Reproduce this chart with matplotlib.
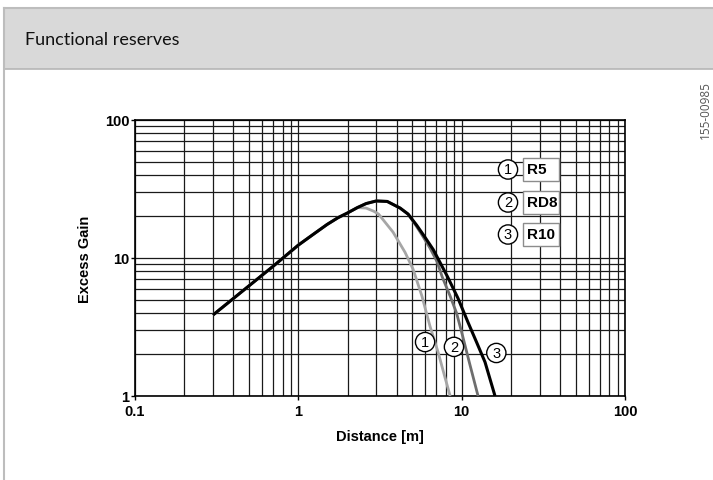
import matplotlib.pyplot as plt
from matplotlib.patches import Rectangle
from matplotlib.ticker import LogLocator, NullFormatter, FixedLocator, FixedFormatter

# curve values (distance in m, excess gain)
r10_x = [0.3, 0.5, 0.7, 1.0, 1.25, 1.5, 1.75, 2.0, 2.3, 2.6, 3.0, 3.5, 4.2, 4.7,
         5.3, 5.9, 6.7, 7.4, 8.2, 9.5, 10.9, 12.4, 13.9, 16.0]
r10_y = [3.86, 6.3, 8.7, 12.4, 15.0, 17.5, 19.6, 21.2, 23.2, 24.8, 25.9, 25.7, 23.0,
         20.8, 17.3, 14.4, 11.5, 9.2, 7.3, 5.1, 3.45, 2.42, 1.76, 1.0]

rd8_x = [0.3, 0.5, 0.7, 1.0, 1.25, 1.5, 1.75, 2.0, 2.3, 2.6, 3.0, 3.5, 4.2, 4.7,
         5.3, 5.8, 6.4, 7.07, 7.6, 8.5, 9.3, 10.0, 11.2, 12.6]
rd8_y = [3.86, 6.3, 8.7, 12.4, 15.0, 17.5, 19.6, 21.2, 23.2, 24.8, 25.9, 25.7, 23.0,
         20.8, 16.9, 14.3, 11.8, 9.4, 7.3, 5.3, 4.0, 2.9, 1.71, 1.0]

r5_x = [0.3, 0.5, 0.7, 1.0, 1.25, 1.5, 1.75, 2.0, 2.3, 2.6, 2.9, 3.1, 3.8, 4.5,
        5.04, 5.71, 6.4, 7.17, 7.95, 8.5]
r5_y = [3.86, 6.3, 8.7, 12.4, 15.0, 17.5, 19.6, 21.2, 23.2, 23.0, 21.8, 20.8, 15.4,
        11.0, 8.3, 5.3, 3.2, 2.08, 1.33, 1.0]

sensor_names = ['R5', 'RD8', 'R10']
x_ticks = [0.1, 1, 10, 100]
x_tick_labels = ['0.1', '1', '10', '100']
y_ticks = [1, 10, 100]
y_tick_labels = ['1', '10', '100']

W, H = 713, 481
fig = plt.figure(figsize=(W / 100, H / 100), dpi=100)

# page frame and header band
fig.add_artist(Rectangle((4 / W, 1 - 70 / H), 1, 61 / H, transform=fig.transFigure,
                         facecolor='#d9d9d9', edgecolor='none', zorder=0))
fig.add_artist(plt.Line2D([4 / W, 1], [1 - 9 / H, 1 - 9 / H], transform=fig.transFigure,
                          color='#bdbdbd', lw=1.5))
fig.add_artist(plt.Line2D([4 / W, 1], [1 - 70 / H, 1 - 70 / H], transform=fig.transFigure,
                          color='#b5b5b5', lw=1.2))
fig.add_artist(plt.Line2D([4 / W, 4 / W], [0, 1 - 9 / H], transform=fig.transFigure,
                          color='#bdbdbd', lw=1.5))
fig.text(25 / W, 1 - 40 / H, 'Functional reserves', family='Lato', fontsize=13,
         va='center', ha='left', color='#111111')
fig.text(705 / W, 1 - 110 / H, '155-00985', rotation=90, family='Open Sans',
         fontsize=8.5, color='#555555', ha='center', va='center')

ax = fig.add_axes([135 / W, 1 - 397 / H, 490 / W, 276 / H])
ax.set_xscale('log')
ax.set_yscale('log')
ax.set_xlim(0.1, 100)
ax.set_ylim(1, 100)

ax.xaxis.set_major_locator(FixedLocator(x_ticks))
ax.xaxis.set_major_formatter(FixedFormatter(x_tick_labels))
ax.yaxis.set_major_locator(FixedLocator(y_ticks))
ax.yaxis.set_major_formatter(FixedFormatter(y_tick_labels))
for axis in (ax.xaxis, ax.yaxis):
    axis.set_minor_locator(LogLocator(base=10, subs=range(2, 10)))
    axis.set_minor_formatter(NullFormatter())

ax.grid(True, which='both', color='#1a1a1a', lw=0.9)
ax.set_axisbelow(True)
ax.tick_params(which='major', length=3, width=1, labelsize=10.5)
ax.tick_params(axis='x', which='major', pad=3)
ax.tick_params(axis='y', which='major', pad=1)
ax.tick_params(which='minor', length=0)
for lab in ax.get_xticklabels() + ax.get_yticklabels():
    lab.set_fontweight('bold')
    lab.set_family('Liberation Sans')
for sp in ax.spines.values():
    sp.set_linewidth(1.2)

ax.set_xlabel('Distance [m]', family='Liberation Sans', fontweight='bold', fontsize=10.5)
ax.set_ylabel('Excess Gain', family='Liberation Sans', fontweight='bold', fontsize=10.5)
ax.xaxis.set_label_coords(0.5, -0.12)
ax.yaxis.set_label_coords(-0.088, 0.5)

ax.plot(r5_x, r5_y, color='#a6a6a6', lw=2, solid_capstyle='butt',
        solid_joinstyle='round', zorder=3)
ax.plot(rd8_x, rd8_y, color='#6e6e6e', lw=2, solid_capstyle='butt',
        solid_joinstyle='round', zorder=4)
ax.plot(r10_x, r10_y, color='#000000', lw=2.2, solid_capstyle='butt',
        solid_joinstyle='round', zorder=5)

circ = dict(boxstyle='circle,pad=0.18', facecolor='white', edgecolor='black', lw=1)

# numbers next to the curve ends
for label, (cx, cy) in zip(['1', '2', '3'], [(5.97, 2.46), (8.97, 2.27), (16.3, 2.05)]):
    ax.text(cx, cy, label, family='Liberation Sans', fontsize=10.5, ha='center',
            va='center', bbox=circ, zorder=6)

# legend rows
row_tops = [159, 192, 224]
for i, name in enumerate(sensor_names):
    top = row_tops[i]
    yc = (397 - (top + 11.5)) / 276
    ax.text((508 - 135) / 490, yc, str(i + 1), transform=ax.transAxes,
            family='Liberation Sans', fontsize=10.5, ha='center', va='center',
            bbox=circ, zorder=6)
    ax.add_patch(Rectangle(((523 - 135) / 490, (397 - top - 23) / 276), 36 / 490, 23 / 276,
                           transform=ax.transAxes, facecolor='white', edgecolor='#8c8c8c',
                           lw=1, zorder=6))
    ax.text((527 - 135) / 490, yc, name, transform=ax.transAxes, family='Liberation Sans',
            fontweight='bold', fontsize=11, ha='left', va='center', zorder=7)

fig.savefig('out.png', dpi=100)
